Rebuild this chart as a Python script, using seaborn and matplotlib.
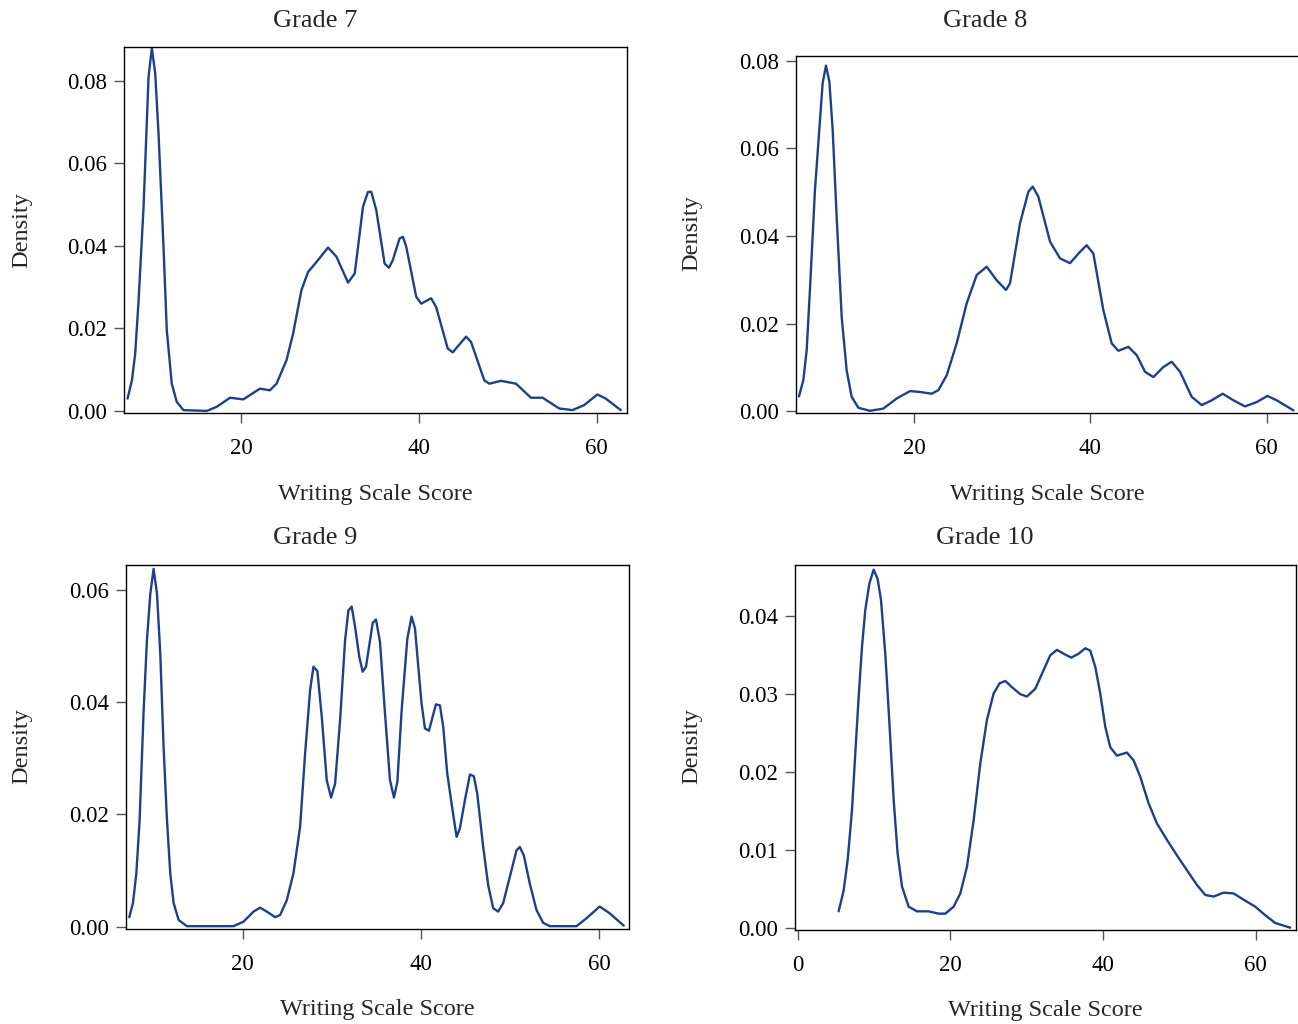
import matplotlib
matplotlib.use("Agg")
import matplotlib.pyplot as plt
import seaborn as sns
import pandas as pd

# ---------------- data ----------------
grades = ["Grade 7", "Grade 8", "Grade 9", "Grade 10"]

g7_score = [7.25, 7.74, 8.11, 8.49, 9.05, 9.61, 9.98, 10.36, 10.73, 11.29, 11.66, 12.22, 12.78,
            13.53, 16.15, 17.27, 18.77, 20.26, 22.13, 23.25, 24.0, 25.12, 25.87, 26.80, 27.55,
            28.49, 29.79, 30.73, 32.04, 32.79, 33.72, 34.28, 34.65, 35.21, 36.15, 36.64, 37.08,
            37.83, 38.21, 38.58, 39.70, 40.26, 41.38, 41.94, 43.25, 43.81, 45.31, 45.87, 47.36,
            47.93, 49.23, 50.92, 52.60, 53.91, 55.78, 57.27, 58.58, 60.07, 61.0, 62.7]
g7_density = [0.0030, 0.0074, 0.0139, 0.0268, 0.0495, 0.0810, 0.0879, 0.0818, 0.0673, 0.0398,
              0.0196, 0.0066, 0.0022, 0.0002, 0.0000, 0.0010, 0.0032, 0.0028, 0.0054, 0.0050,
              0.0066, 0.0123, 0.0188, 0.0293, 0.0337, 0.0361, 0.0396, 0.0374, 0.0311, 0.0333,
              0.0495, 0.0531, 0.0531, 0.0487, 0.0357, 0.0347, 0.0366, 0.0418, 0.0422, 0.0398,
              0.0277, 0.0260, 0.0273, 0.0252, 0.0151, 0.0142, 0.0180, 0.0167, 0.0074, 0.0066,
              0.0073, 0.0066, 0.0032, 0.0032, 0.0006, 0.0002, 0.0014, 0.0040, 0.0030, 0.0002]

g8_score = [6.96, 7.45, 7.83, 8.20, 8.77, 9.26, 9.64, 10.02, 10.40, 10.78, 11.23, 11.80, 12.36,
            12.93, 13.69, 15.01, 16.52, 18.03, 19.55, 20.68, 22.0, 22.76, 23.71, 24.84, 25.97,
            27.11, 28.24, 29.38, 30.43, 30.89, 32.02, 32.97, 33.46, 34.10, 35.43, 36.56, 37.69,
            38.83, 39.58, 40.34, 41.47, 42.42, 43.18, 44.31, 45.26, 46.20, 47.15, 48.28, 49.22,
            50.17, 51.49, 52.63, 53.76, 55.01, 56.22, 57.54, 58.87, 60.08, 61.13, 63.03]
g8_density = [0.0034, 0.0071, 0.0139, 0.0277, 0.0505, 0.0642, 0.0749, 0.0789, 0.0753, 0.0642,
              0.0444, 0.0216, 0.0094, 0.0033, 0.0008, 0.0001, 0.0006, 0.0029, 0.0046, 0.0044,
              0.0040, 0.0048, 0.0082, 0.0155, 0.0246, 0.0311, 0.0330, 0.0299, 0.0277, 0.0292,
              0.0429, 0.0501, 0.0513, 0.0490, 0.0387, 0.0349, 0.0338, 0.0364, 0.0379, 0.0360,
              0.0231, 0.0155, 0.0138, 0.0147, 0.0128, 0.0090, 0.0078, 0.0101, 0.0113, 0.0090,
              0.0033, 0.0014, 0.0025, 0.0040, 0.0025, 0.0011, 0.0021, 0.0035, 0.0025, 0.0002]

g9_score = [7.25, 7.66, 8.04, 8.41, 8.86, 9.23, 9.61, 9.98, 10.36, 10.73, 11.10, 11.48, 11.85,
            12.23, 12.79, 13.72, 18.95, 20.07, 21.20, 21.94, 22.69, 23.63, 24.19, 24.93, 25.68,
            26.43, 26.99, 27.55, 27.93, 28.37, 28.86, 29.42, 29.91, 30.36, 30.92, 31.48, 31.85,
            32.22, 32.60, 33.08, 33.46, 33.83, 34.58, 34.95, 35.40, 35.96, 36.52, 36.97, 37.35,
            37.83, 38.47, 38.95, 39.33, 39.70, 40.07, 40.45, 40.90, 41.68, 42.13, 42.50, 42.95,
            43.44, 44.0, 44.37, 44.93, 45.50, 45.94, 46.32, 46.99, 47.55, 48.11, 48.67, 49.23,
            49.98, 50.73, 51.10, 51.55, 52.22, 52.97, 53.72, 54.47, 57.46, 58.58, 60.07, 61.19,
            62.77]
g9_density = [0.0017, 0.0042, 0.0095, 0.0190, 0.0385, 0.0510, 0.0593, 0.0637, 0.0593, 0.0486,
              0.0320, 0.0190, 0.0095, 0.0042, 0.0012, 0.0001, 0.0001, 0.0009, 0.0027, 0.0034,
              0.0027, 0.0017, 0.0021, 0.0047, 0.0095, 0.0178, 0.0308, 0.0421, 0.0463, 0.0455,
              0.0374, 0.0261, 0.0230, 0.0255, 0.0368, 0.0510, 0.0563, 0.0570, 0.0534, 0.0480,
              0.0454, 0.0463, 0.0541, 0.0547, 0.0507, 0.0380, 0.0261, 0.0230, 0.0258, 0.0385,
              0.0513, 0.0552, 0.0531, 0.0463, 0.0397, 0.0353, 0.0349, 0.0396, 0.0394, 0.0356,
              0.0273, 0.0219, 0.0160, 0.0175, 0.0225, 0.0271, 0.0268, 0.0237, 0.0142, 0.0074,
              0.0033, 0.0027, 0.0042, 0.0089, 0.0136, 0.0142, 0.0127, 0.0077, 0.0030, 0.0007,
              0.0001, 0.0001, 0.0015, 0.0036, 0.0024, 0.0002]

g10_score = [5.37, 6.03, 6.55, 7.12, 7.55, 7.99, 8.43, 8.86, 9.39, 9.96, 10.48, 10.92, 11.48,
             12.05, 12.58, 13.10, 13.67, 14.54, 15.63, 17.16, 18.47, 19.34, 20.44, 21.31, 22.18,
             23.06, 23.93, 24.80, 25.68, 26.46, 27.21, 28.08, 29.17, 30.04, 31.14, 32.23, 33.10,
             33.97, 34.85, 35.85, 36.81, 37.69, 38.34, 39.0, 39.65, 40.31, 40.96, 41.83, 43.14,
             44.02, 44.89, 45.98, 47.07, 48.38, 49.69, 51.0, 52.31, 53.41, 54.50, 55.81, 57.12,
             58.43, 59.96, 61.27, 62.58, 64.54]
g10_density = [0.0021, 0.0048, 0.0087, 0.0151, 0.0224, 0.0296, 0.0361, 0.0408, 0.0442, 0.0460,
               0.0448, 0.0421, 0.0352, 0.0258, 0.0164, 0.0095, 0.0053, 0.0027, 0.0021, 0.0021,
               0.0018, 0.0018, 0.0027, 0.0044, 0.0078, 0.0138, 0.0211, 0.0267, 0.0301, 0.0314,
               0.0317, 0.0309, 0.0300, 0.0297, 0.0307, 0.0331, 0.0350, 0.0357, 0.0352, 0.0347,
               0.0352, 0.0359, 0.0356, 0.0335, 0.0301, 0.0258, 0.0232, 0.0221, 0.0225, 0.0215,
               0.0194, 0.0160, 0.0134, 0.0113, 0.0093, 0.0074, 0.0055, 0.0042, 0.0040, 0.0045,
               0.0044, 0.0036, 0.0027, 0.0016, 0.0006, 0.0000]

x_ticks_a = [20, 40, 60]
x_ticks_b = [0, 20, 40, 60]
y_ticks_g7 = [0.00, 0.02, 0.04, 0.06, 0.08]
y_ticks_g8 = [0.00, 0.02, 0.04, 0.06, 0.08]
y_ticks_g9 = [0.00, 0.02, 0.04, 0.06]
y_ticks_g10 = [0.00, 0.01, 0.02, 0.03, 0.04]

x_label = "Writing Scale Score"
y_label = "Density"

# ---------------- styling ----------------
sns.set_theme(style="white")
plt.rcParams["font.family"] = ["Liberation Serif", "DejaVu Serif"]

W, H = 1298, 1024
fig = plt.figure(figsize=(W / 100, H / 100), dpi=100)
fig.patch.set_facecolor("white")

LINE = "#1d4088"


def box(l, t, r, b):
    return [l / W, 1 - b / H, (r - l) / W, (b - t) / H]


panels = [
    dict(x=g7_score, y=g7_density, xt=x_ticks_a, yt=y_ticks_g7, pos=box(124, 47, 627, 413),
         xlim=(6.85, 63.4), ylim=(-0.0005, 0.0882), title=(315, 27), xl=(375, 500), yl=(22, 230)),
    dict(x=g8_score, y=g8_density, xt=x_ticks_a, yt=y_ticks_g8, pos=box(796, 56, 1302, 413),
         xlim=(6.62, 64.0), ylim=(-0.0004, 0.0811), title=(985, 27), xl=(1047, 500), yl=(692, 233)),
    dict(x=g9_score, y=g9_density, xt=x_ticks_a, yt=y_ticks_g9, pos=box(126, 565, 629, 929),
         xlim=(6.88, 63.36), ylim=(-0.0004, 0.0644), title=(315, 544), xl=(377, 1015), yl=(22, 746)),
    dict(x=g10_score, y=g10_density, xt=x_ticks_b, yt=y_ticks_g10, pos=box(795, 565, 1296, 930),
         xlim=(-0.35, 65.3), ylim=(-0.0003, 0.0466), title=(985, 544), xl=(1045, 1016), yl=(692, 746)),
]

for name, p in zip(grades, panels):
    ax = fig.add_axes(p["pos"])
    df = pd.DataFrame({"score": p["x"], "density": p["y"]})
    sns.lineplot(data=df, x="score", y="density", ax=ax, color=LINE, linewidth=1.7,
                 sort=False, estimator=None)
    ax.set_xlim(*p["xlim"])
    ax.set_ylim(*p["ylim"])
    ax.set_xticks(p["xt"])
    ax.set_yticks(p["yt"])
    ax.set_xticklabels([str(v) for v in p["xt"]])
    ax.set_yticklabels([f"{v:.2f}" for v in p["yt"]])
    ax.set_xlabel("")
    ax.set_ylabel("")
    for s in ax.spines.values():
        s.set_color("black")
        s.set_linewidth(1.0)
        s.set_visible(True)
    ax.tick_params(axis="both", direction="out", length=7, width=1, color="#555555",
                   labelsize=16.5, labelcolor="black", bottom=True, left=True)
    ax.tick_params(axis="x", pad=11)
    ax.tick_params(axis="y", pad=5)
    ax.set_facecolor("white")
    ax.grid(False)

    tx, ty = p["title"]
    fig.text(tx / W, 1 - ty / H, name, ha="center", va="baseline", fontsize=19)
    lx, ly = p["xl"]
    fig.text(lx / W, 1 - ly / H, x_label, ha="center", va="baseline", fontsize=17.5)
    yx, yy = p["yl"]
    fig.text(yx / W, 1 - yy / H, y_label, ha="center", va="center", rotation=90, fontsize=17.5)

fig.savefig("out.png", dpi=100, facecolor="white")
